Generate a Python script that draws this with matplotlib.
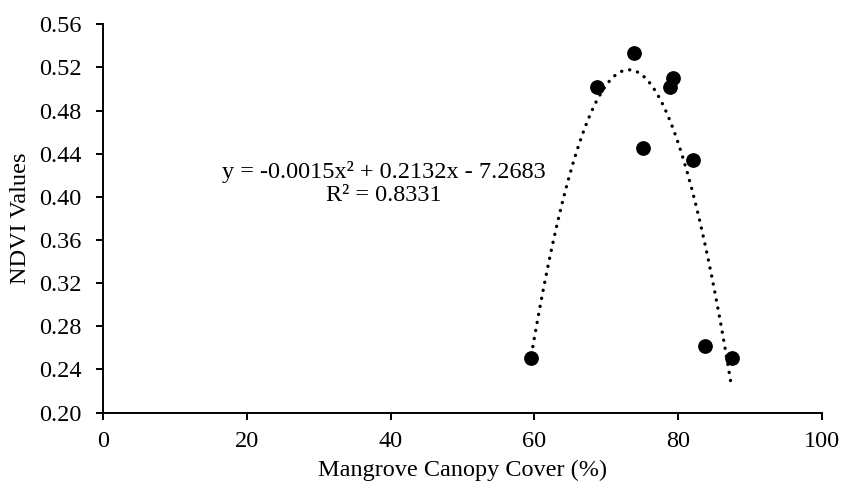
import numpy as np
import matplotlib
matplotlib.use("Agg")
import matplotlib.pyplot as plt

plt.rcParams['font.family'] = ['Liberation Serif', 'DejaVu Serif']

# canopy cover (%) and NDVI
canopy = [59.6, 68.7, 73.9, 75.1, 78.9, 79.3, 82.1, 83.7, 87.5]
ndvi = [0.251, 0.502, 0.533, 0.445, 0.502, 0.510, 0.434, 0.262, 0.251]

eq_text = "y = -0.0015x\u00b2 + 0.2132x - 7.2683\nR\u00b2 = 0.8331"
x_ticks = [0, 20, 40, 60, 80, 100]
y_ticks = [0.20, 0.24, 0.28, 0.32, 0.36, 0.40, 0.44, 0.48, 0.52, 0.56]

fig = plt.figure(figsize=(8.43, 4.88), dpi=100)
ax = fig.add_axes([0.1226, 0.1547, 0.852, 0.7955])

# quadratic trend line over the data range
coef = np.polyfit(canopy, ndvi, 2)
xs = np.linspace(min(canopy), max(canopy), 200)
ax.plot(xs, np.polyval(coef, xs), color='black', lw=2.4,
        dashes=[0.05, 2.4], dash_capstyle='round')

ax.plot(canopy, ndvi, 'o', color='black', markersize=9.6, zorder=3)

ax.text(39.1, 0.412, eq_text, ha='center', va='center',
        multialignment='center', fontsize=17.5, linespacing=1.12)

ax.set_xlim(0, 100)
ax.set_ylim(0.20, 0.56)
ax.set_xticks(x_ticks)
ax.set_yticks(y_ticks)
ax.set_yticklabels([f"{v:.2f}" for v in y_ticks])

for s in ['top', 'right']:
    ax.spines[s].set_visible(False)
for s in ['left', 'bottom']:
    ax.spines[s].set_linewidth(1.4)

ax.tick_params(axis='both', labelsize=17.5, width=1.4, length=5, direction='out')
ax.tick_params(axis='x', pad=8)
ax.tick_params(axis='y', pad=10.5)

ax.set_xlabel("Mangrove Canopy Cover (%)", fontsize=17.5, labelpad=6)
ax.set_ylabel("NDVI Values", fontsize=17.5, labelpad=6)

fig.savefig("out.png", dpi=100)
